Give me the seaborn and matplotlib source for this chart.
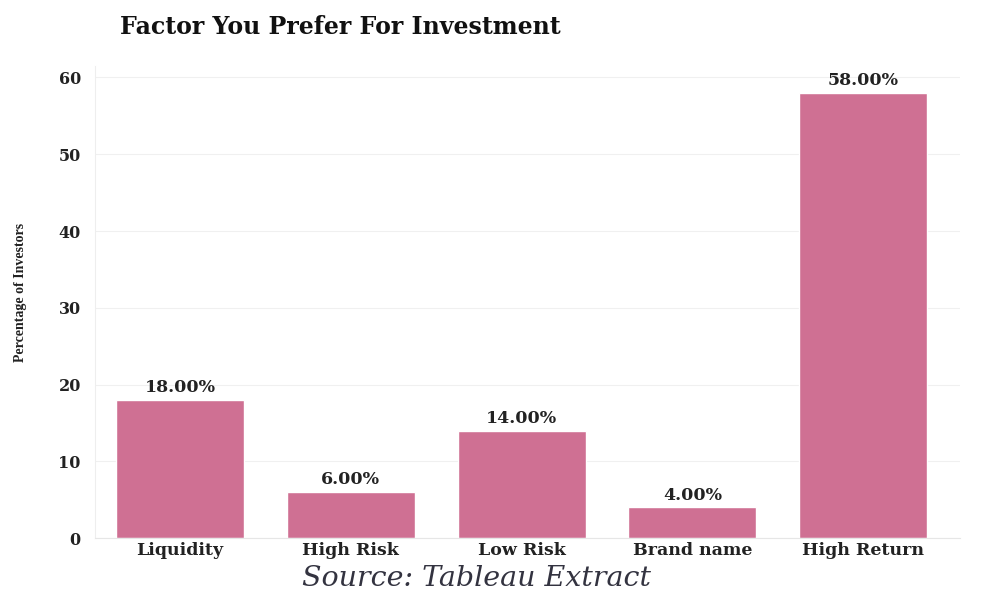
import matplotlib
matplotlib.use("Agg")
import matplotlib.pyplot as plt
import seaborn as sns
import pandas as pd

# data
factors = ["Liquidity", "High Risk", "Low Risk", "Brand name", "High Return"]
percent = [18, 6, 14, 4, 58]
yticks = [0, 10, 20, 30, 40, 50, 60]

df = pd.DataFrame({"Factor": factors, "Percent": percent})

sns.set_style("white")
plt.rcParams["font.family"] = ["DejaVu Serif"]

fig = plt.figure(figsize=(9.87, 5.94), dpi=100)
ax = fig.add_axes([0.096, 0.094, 0.877, 0.795])

sns.barplot(data=df, x="Factor", y="Percent", color="#cf7093", saturation=1,
            width=0.75, ax=ax)

for i, v in enumerate(percent):
    ax.text(i, v + 0.5, f"{v:.2f}%", ha="center", va="bottom",
            fontsize=12.5, fontweight="bold", color="#222222")

ax.set_xlim(-0.5, 4.57)
ax.set_ylim(0, 61.5)
ax.set_yticks(yticks)
ax.set_yticklabels([str(t) for t in yticks], fontsize=11.5, fontweight="bold",
                   color="#222222")
ax.tick_params(axis="x", labelsize=12.5, pad=3, length=0)
ax.tick_params(axis="y", pad=10, length=0)
for lab in ax.get_xticklabels():
    lab.set_fontweight("bold")
    lab.set_color("#222222")

ax.yaxis.grid(True, color="#f0f0f0", linewidth=0.8)
ax.set_axisbelow(True)
for side in ["top", "right"]:
    ax.spines[side].set_visible(False)
ax.spines["left"].set_color("#eeeeee")
ax.spines["bottom"].set_color("#e6e6e6")

ax.set_xlabel("")
ax.set_ylabel("")
fig.text(0.021, 0.507, "Percentage of Investors", rotation=90, fontsize=10,
         fontweight="bold", color="#222222", ha="center", va="center",
         family="Liberation Serif")

fig.text(0.122, 0.955, "Factor You Prefer For Investment", fontsize=17,
         fontweight="bold", color="#111111", va="center", ha="left")
fig.text(0.483, 0.026, "Source: Tableau Extract", fontsize=20.5, style="italic",
         color="#333340", ha="center", va="center")

fig.savefig("out.png", dpi=100)
